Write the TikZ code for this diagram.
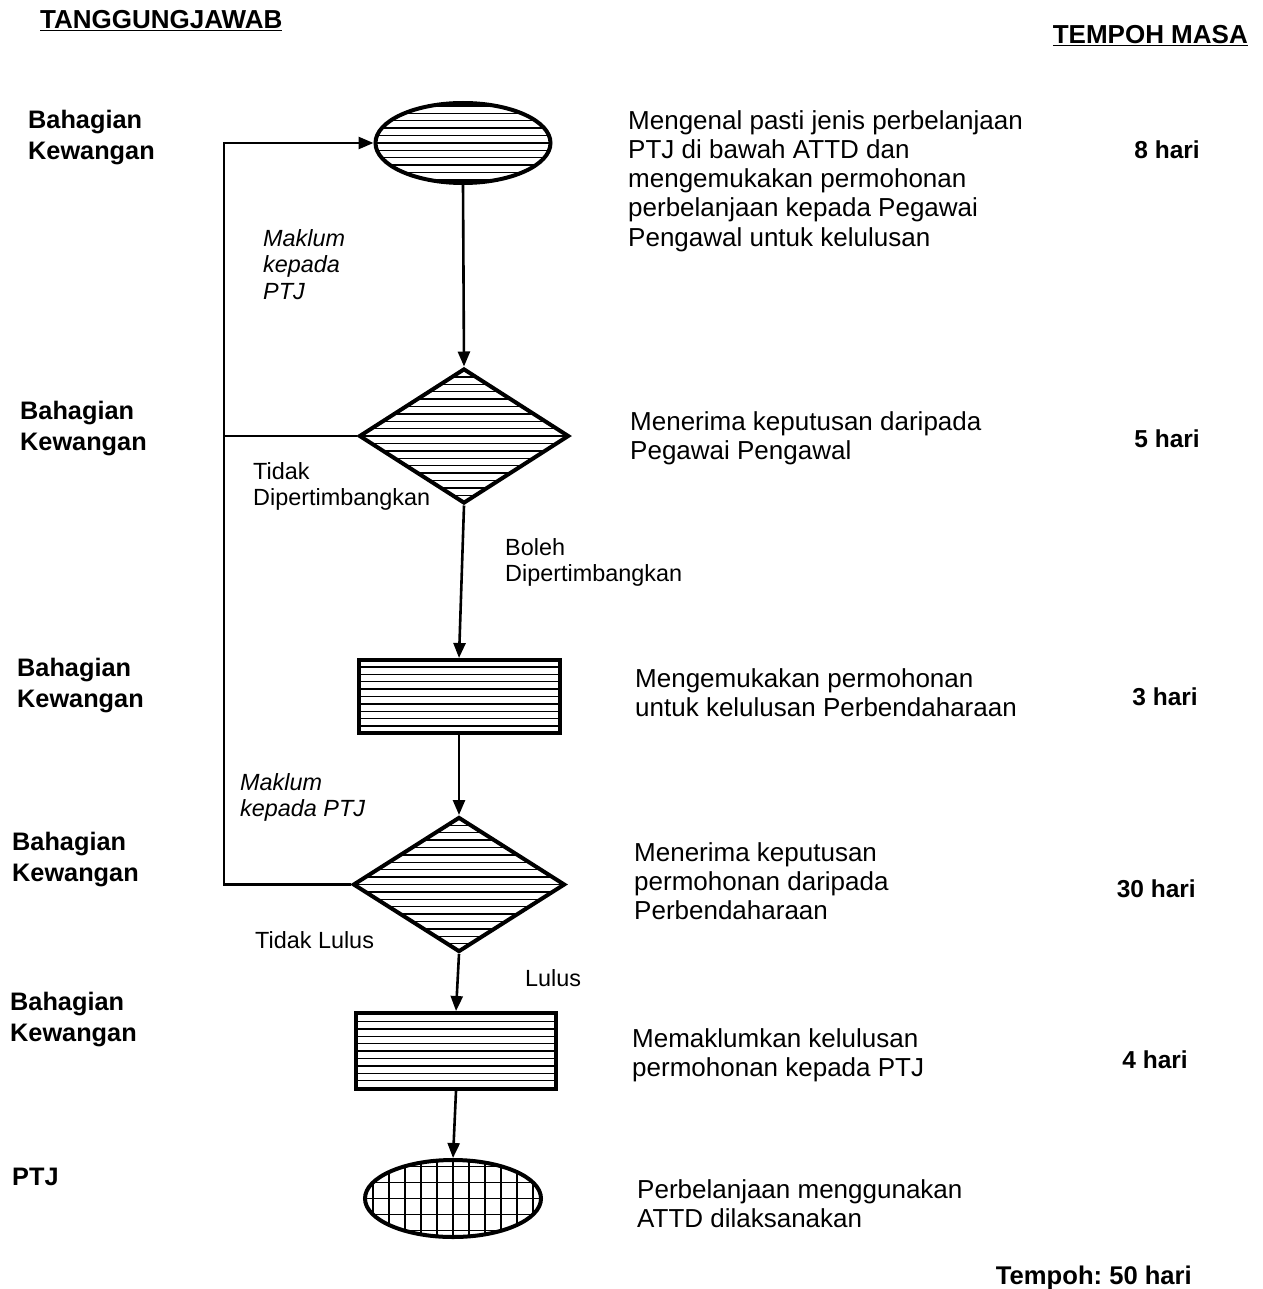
\documentclass[tikz,border=0pt]{standalone}
\usepackage{fontspec}
\setmainfont{Liberation Sans}
\usetikzlibrary{shapes.geometric,arrows.meta}
\frenchspacing

\tikzset{
  outline/.style={draw=black, line width=4pt, inner sep=0pt},
  hlines/.style={path picture={
      \foreach \k in {-12,...,12}
        \draw[line width=1.4pt]
          ([yshift=\k*7.4pt]path picture bounding box.west) --
          ([yshift=\k*7.4pt]path picture bounding box.east);}},
  gridfill/.style={path picture={
      \foreach \k in {-8,...,8}
        \draw[line width=1.4pt]
          ([xshift=\k*16pt]path picture bounding box.north) --
          ([xshift=\k*16pt]path picture bounding box.south);
      \foreach \k in {-3,...,3}
        \draw[line width=1.4pt]
          ([yshift=\k*16pt]path picture bounding box.west) --
          ([yshift=\k*16pt]path picture bounding box.east);}},
  terminal/.style={outline, ellipse},
  decision/.style={outline, diamond},
  process/.style={outline, rectangle},
  conn/.style={line width=2.6pt},
  flow/.style={conn, -{Triangle[length=15pt,width=12pt]}},
  desc/.style={anchor=north west, align=left, inner sep=0pt,
               font=\fontsize{26}{29.3}\selectfont},
  who/.style={anchor=north west, align=left, inner sep=0pt,
              font=\fontsize{25.3}{31}\selectfont\bfseries},
  days/.style={anchor=north east, inner sep=0pt,
               font=\fontsize{24.5}{29}\selectfont\bfseries},
  total/.style={days, font=\fontsize{25.6}{29}\selectfont\bfseries},
  note/.style={anchor=north west, align=left, inner sep=0pt,
               font=\fontsize{23.4}{26.5}\selectfont},
  inote/.style={note, font=\fontsize{23.4}{26.5}\selectfont\itshape},
  heading/.style={anchor=north west, inner sep=0pt,
                  font=\fontsize{26}{28}\selectfont\bfseries},
}

\begin{document}
\begin{tikzpicture}[x=1pt, y=-1pt]
\useasboundingbox (0,0) rectangle (1262,1289);

% column headings
\node[heading] (hresp) at (40,10) {\underline{TANGGUNGJAWAB}};
\node[heading, anchor=north east] (htime) at (1248,25) {\underline{TEMPOH MASA}};

% flow shapes
\node[terminal, hlines, minimum width=175pt, minimum height=80pt] (e1) at (463,143) {};
\node[decision, hlines, minimum width=210pt, minimum height=135pt] (d1) at (464,436) {};
\node[process, hlines, minimum width=201pt, minimum height=73pt] (r1) at (459,696.5) {};
\node[decision, hlines, minimum width=212pt, minimum height=135pt] (d2) at (459,884.5) {};
\node[process, hlines, minimum width=200pt, minimum height=76pt] (r2) at (456,1051) {};
\node[terminal, gridfill, minimum width=176pt, minimum height=77pt] (e2) at (453,1198.5) {};

% main flow
\draw[flow] (e1.south) -- (d1.north);
\draw[flow] (d1.south) -- (r1.north);
\draw[flow] (r1.south) -- (d2.north);
\draw[flow] (d2.south) -- (r2.north);
\draw[flow] (r2.south) -- (e2.north);

% return loop
\coordinate (loop) at (224,0);
\draw[conn] (d1.west) -- (d1.west -| loop);
\draw[flow] (d2.west) -- (d2.west -| loop) |- (e1.west);

% branch labels
\node[inote] (m1) at (263,229) {Maklum\\kepada\\PTJ};
\node[note] (t1) at (253,462) {Tidak\\Dipertimbangkan};
\node[note] (b1) at (505,538) {Boleh\\Dipertimbangkan};
\node[inote] (m2) at (240,773) {Maklum\\kepada PTJ};
\node[note] (t2) at (255,931) {Tidak Lulus};
\node[note] (l2) at (525,969) {Lulus};

% responsibility column
\node[who] (w1) at (28,110) {Bahagian\\Kewangan};
\node[who] (w2) at (20,401) {Bahagian\\Kewangan};
\node[who] (w3) at (17,658) {Bahagian\\Kewangan};
\node[who] (w4) at (12,832) {Bahagian\\Kewangan};
\node[who] (w5) at (10,992) {Bahagian\\Kewangan};
\node[who] (w6) at (12,1168) {PTJ};

% descriptions
\node[desc] (s1) at (628,110) {Mengenal pasti jenis perbelanjaan\\PTJ di bawah ATTD dan\\mengemukakan permohonan\\perbelanjaan kepada Pegawai\\Pengawal untuk kelulusan};
\node[desc] (s2) at (630,411) {Menerima keputusan daripada\\Pegawai Pengawal};
\node[desc] (s3) at (635,668) {Mengemukakan permohonan\\untuk kelulusan Perbendaharaan};
\node[desc] (s4) at (634,842) {Menerima keputusan\\permohonan daripada\\Perbendaharaan};
\node[desc] (s5) at (632,1028) {Memaklumkan kelulusan\\permohonan kepada PTJ};
\node[desc] (s6) at (637,1179) {Perbelanjaan menggunakan\\ATTD dilaksanakan};

% durations
\node[days] (p1) at (1200,141) {8 hari};
\node[days] (p2) at (1200,430) {5 hari};
\node[days] (p3) at (1198,688) {3 hari};
\node[days] (p4) at (1196,880) {30 hari};
\node[days] (p5) at (1188,1051) {4 hari};
\node[total] (ptot) at (1192,1266) {Tempoh: 50 hari};
\end{tikzpicture}
\end{document}
